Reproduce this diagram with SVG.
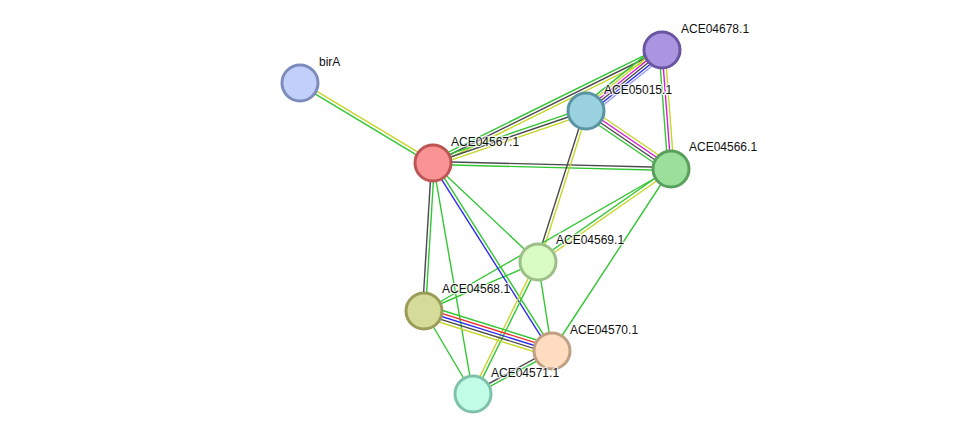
<svg xmlns="http://www.w3.org/2000/svg" width="976" height="440" viewBox="0 0 976 440">
<style>
.e line{stroke-width:1.4;fill:none}
.g{stroke:#33c633}.y{stroke:#c6d62a}.k{stroke:#4a4a4a}.b{stroke:#2a2af0}.m{stroke:#d61ad6}.r{stroke:#f02a2a}.lb{stroke:#a0a6f6}
.n circle{stroke-width:3}
.n text{font-family:"Liberation Sans",Arial,sans-serif;font-size:12px;fill:#111;stroke:#fff;stroke-width:2.5;stroke-opacity:0.7;paint-order:stroke}
</style>
<rect width="976" height="440" fill="#fff"/>
<g id="connectors" class="e">
<!-- birA - 04567 -->
<line class="g" x1="300" y1="83" x2="433" y2="163" transform="translate(-0.77,1.29)"/>
<line class="y" x1="300" y1="83" x2="433" y2="163" transform="translate(0.77,-1.29)"/>
<!-- 04567 - 04678 -->
<line class="g" x1="433" y1="163" x2="662" y2="50" transform="translate(-1.33,-2.69)"/>
<line class="k" x1="433" y1="163" x2="662" y2="50"/>
<line class="y" x1="433" y1="163" x2="662" y2="50" transform="translate(1.33,2.69)"/>
<!-- 04567 - 05015 -->
<line class="g" x1="433" y1="163" x2="586" y2="111" transform="translate(-0.97,-2.84)"/>
<line class="k" x1="433" y1="163" x2="586" y2="111"/>
<line class="y" x1="433" y1="163" x2="586" y2="111" transform="translate(0.97,2.84)"/>
<!-- 04567 - 04566 -->
<line class="k" x1="433" y1="163" x2="671" y2="169" transform="translate(0.04,-1.5)"/>
<line class="g" x1="433" y1="163" x2="671" y2="169" transform="translate(-0.04,1.5)"/>
<!-- 05015 - 04678 -->
<line class="g" x1="586" y1="111" x2="662" y2="50" transform="translate(-3.91,-4.88)"/>
<line class="y" x1="586" y1="111" x2="662" y2="50" transform="translate(-2.35,-2.93)"/>
<line class="m" x1="586" y1="111" x2="662" y2="50" transform="translate(-0.78,-0.98)"/>
<line class="k" x1="586" y1="111" x2="662" y2="50" transform="translate(0.78,0.98)"/>
<line class="b" x1="586" y1="111" x2="662" y2="50" transform="translate(2.35,2.93)"/>
<line class="lb" x1="586" y1="111" x2="662" y2="50" transform="translate(3.91,4.88)"/>
<!-- 05015 - 04566 -->
<line class="y" x1="586" y1="111" x2="671" y2="169" transform="translate(2.54,-3.72)"/>
<line class="m" x1="586" y1="111" x2="671" y2="169" transform="translate(0.85,-1.24)"/>
<line class="k" x1="586" y1="111" x2="671" y2="169" transform="translate(-0.85,1.24)"/>
<line class="g" x1="586" y1="111" x2="671" y2="169" transform="translate(-2.54,3.72)"/>
<!-- 04678 - 04566 -->
<line class="g" x1="662" y1="50" x2="671" y2="169" transform="translate(-2.99,0.23)"/>
<line class="m" x1="662" y1="50" x2="671" y2="169"/>
<line class="y" x1="662" y1="50" x2="671" y2="169" transform="translate(2.99,-0.23)"/>
<!-- 05015 - 04569 -->
<line class="k" x1="586" y1="111" x2="538" y2="262" transform="translate(-1.43,-0.45)"/>
<line class="y" x1="586" y1="111" x2="538" y2="262" transform="translate(1.43,0.45)"/>
<!-- 04566 - 04569 -->
<line class="g" x1="671" y1="169" x2="538" y2="262" transform="translate(-0.86,-1.23)"/>
<line class="y" x1="671" y1="169" x2="538" y2="262" transform="translate(0.86,1.23)"/>
<!-- singles -->
<line class="g" x1="671" y1="169" x2="424" y2="311"/>
<line class="g" x1="671" y1="169" x2="552" y2="351"/>
<line class="g" x1="433" y1="163" x2="538" y2="262"/>
<line class="g" x1="433" y1="163" x2="473" y2="394"/>
<line class="g" x1="538" y1="262" x2="424" y2="311"/>
<line class="g" x1="538" y1="262" x2="552" y2="351"/>
<line class="g" x1="424" y1="311" x2="473" y2="394"/>
<!-- 04567 - 04570 -->
<line class="b" x1="433" y1="163" x2="552" y2="351" transform="translate(-1.27,0.8)"/>
<line class="g" x1="433" y1="163" x2="552" y2="351" transform="translate(1.27,-0.8)"/>
<!-- 04567 - 04568 -->
<line class="k" x1="433" y1="163" x2="424" y2="311" transform="translate(-1.5,-0.09)"/>
<line class="g" x1="433" y1="163" x2="424" y2="311" transform="translate(1.5,0.09)"/>
<!-- 04569 - 04571 -->
<line class="y" x1="538" y1="262" x2="473" y2="394" transform="translate(-1.35,-0.66)"/>
<line class="g" x1="538" y1="262" x2="473" y2="394" transform="translate(1.35,0.66)"/>
<!-- 04568 - 04570 -->
<line class="g" x1="424" y1="311" x2="552" y2="351" transform="translate(1.79,-5.72)"/>
<line class="r" x1="424" y1="311" x2="552" y2="351" transform="translate(0.89,-2.86)"/>
<line class="b" x1="424" y1="311" x2="552" y2="351"/>
<line class="k" x1="424" y1="311" x2="552" y2="351" transform="translate(-0.89,2.86)"/>
<line class="y" x1="424" y1="311" x2="552" y2="351" transform="translate(-1.79,5.72)"/>
<!-- 04570 - 04571 -->
<line class="k" x1="552" y1="351" x2="473" y2="394" transform="translate(-0.72,-1.32)"/>
<line class="g" x1="552" y1="351" x2="473" y2="394" transform="translate(0.72,1.32)"/>
</g>
<g id="birA" class="n"><circle cx="300" cy="83" r="18" fill="#c1d0fb" stroke="#7d8cbd"/><text x="319" y="66">birA</text></g>
<g id="ACE04678.1" class="n"><circle cx="662" cy="50" r="18" fill="#aa96e0" stroke="#6a55a2"/><text x="681" y="33">ACE04678.1</text></g>
<g id="ACE05015.1" class="n"><circle cx="586" cy="111" r="18" fill="#99d1df" stroke="#5a94a3"/><text x="604" y="94">ACE05015.1</text></g>
<g id="ACE04567.1" class="n"><circle cx="433" cy="163" r="18" fill="#fa9494" stroke="#be5555"/><text x="451" y="146">ACE04567.1</text></g>
<g id="ACE04566.1" class="n"><circle cx="671" cy="169" r="18" fill="#9ae09b" stroke="#5a9e5c"/><text x="689" y="151">ACE04566.1</text></g>
<g id="ACE04569.1" class="n"><circle cx="538" cy="262" r="18" fill="#d9fcc2" stroke="#9cbf8a"/><text x="556" y="244">ACE04569.1</text></g>
<g id="ACE04568.1" class="n"><circle cx="424" cy="311" r="18" fill="#d5db98" stroke="#9a9c58"/><text x="442" y="293">ACE04568.1</text></g>
<g id="ACE04570.1" class="n"><circle cx="552" cy="351" r="18" fill="#fddcbf" stroke="#bfa083"/><text x="570" y="334">ACE04570.1</text></g>
<g id="ACE04571.1" class="n"><circle cx="473" cy="394" r="18" fill="#c1fde6" stroke="#7fc1aa"/><text x="491" y="377">ACE04571.1</text></g>
</svg>
